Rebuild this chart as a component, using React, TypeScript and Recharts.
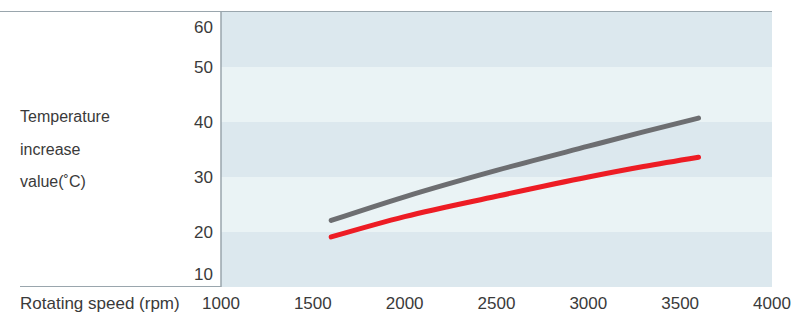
import React from 'react'
import { LineChart, Line, XAxis, YAxis, ReferenceArea } from 'recharts'

const rpm = [1600, 2000, 2500, 3000, 3300, 3600]
const exConventional = [22.1, 26.4, 31.2, 35.6, 38.2, 40.7]
const exs1 = [19.1, 22.8, 26.5, 30.0, 31.9, 33.6]
const xTicks = [1000, 1500, 2000, 2500, 3000, 3500, 4000]
const yTicks = [10, 20, 30, 40, 50, 60]
const bands = [
  [10, 20],
  [20, 30],
  [30, 40],
  [40, 50],
  [50, 60],
]

const data = rpm.map((r, i) => ({ rpm: r, ex: exConventional[i], exs1: exs1[i] }))

const FONT = '"Liberation Sans", Arial, sans-serif'
const DARK = '#dce8ee'
const LIGHT = '#eaf3f5'
const LINE = '#9aa6ad'

const YTick = (props: any) => {
  const { y, payload } = props
  const cy = Math.min(Math.max(y, 27), 274)
  return (
    <text x={213} y={cy + 6} textAnchor="end" fontSize={17} fill="#3a3a3a" fontFamily={FONT}>
      {payload.value}
    </text>
  )
}

const XTick = (props: any) => {
  const { x, payload } = props
  return (
    <text x={x} y={309} textAnchor="middle" fontSize={17} fill="#3a3a3a" fontFamily={FONT}>
      {payload.value}
    </text>
  )
}

export default function App() {
  return (
    <div style={{ position: 'absolute', left: 0, top: 0, width: 798, height: 316, background: '#fff' }}>
      <div style={{ position: 'absolute', left: 0, top: 11, width: 772, height: 1, background: LINE }} />
      <div style={{ position: 'absolute', left: 20, top: 286, width: 752, height: 1, background: LINE }} />
      <LineChart width={798} height={316} data={data} margin={{ top: 12, right: 26, left: 0, bottom: 0 }}>
        {bands.map(([a, b], i) => (
          <ReferenceArea
            key={i}
            y1={a}
            y2={b}
            fill={i % 2 === 0 ? DARK : LIGHT}
            fillOpacity={1}
            stroke="none"
            ifOverflow="visible"
          />
        ))}
        <XAxis
          dataKey="rpm"
          type="number"
          domain={[1000, 4000]}
          ticks={xTicks}
          axisLine={false}
          tickLine={false}
          tick={<XTick />}
          height={29}
          interval={0}
        />
        <YAxis
          type="number"
          domain={[10, 60]}
          ticks={yTicks}
          axisLine={{ stroke: LINE, strokeWidth: 1.5 }}
          tickLine={false}
          tick={<YTick />}
          width={221}
          interval={0}
        />
        <Line
          type="monotone"
          dataKey="ex"
          stroke="#6d6e71"
          strokeWidth={5}
          strokeLinecap="round"
          dot={false}
          isAnimationActive={false}
        />
        <Line
          type="monotone"
          dataKey="exs1"
          stroke="#ed1c24"
          strokeWidth={5}
          strokeLinecap="round"
          dot={false}
          isAnimationActive={false}
        />
        <text x={308} y={141} fontSize={17.5} fill="#6d6e71" fontFamily={FONT}>
          EX (Conventional design)
        </text>
        <text x={549} y={207} fontSize={17.5} fill="#ed1c24" fontFamily={FONT}>
          EXS1
        </text>
        <text x={20} y={122} fontSize={16} fill="#3a3a3a" fontFamily={FONT}>
          Temperature
        </text>
        <text x={20} y={155} fontSize={16} fill="#3a3a3a" fontFamily={FONT}>
          increase
        </text>
        <text x={20} y={187} fontSize={16} fill="#3a3a3a" fontFamily={FONT}>
          value(˚C)
        </text>
        <text x={20} y={309} fontSize={17} fill="#3a3a3a" fontFamily={FONT}>
          Rotating speed (rpm)
        </text>
      </LineChart>
    </div>
  )
}
